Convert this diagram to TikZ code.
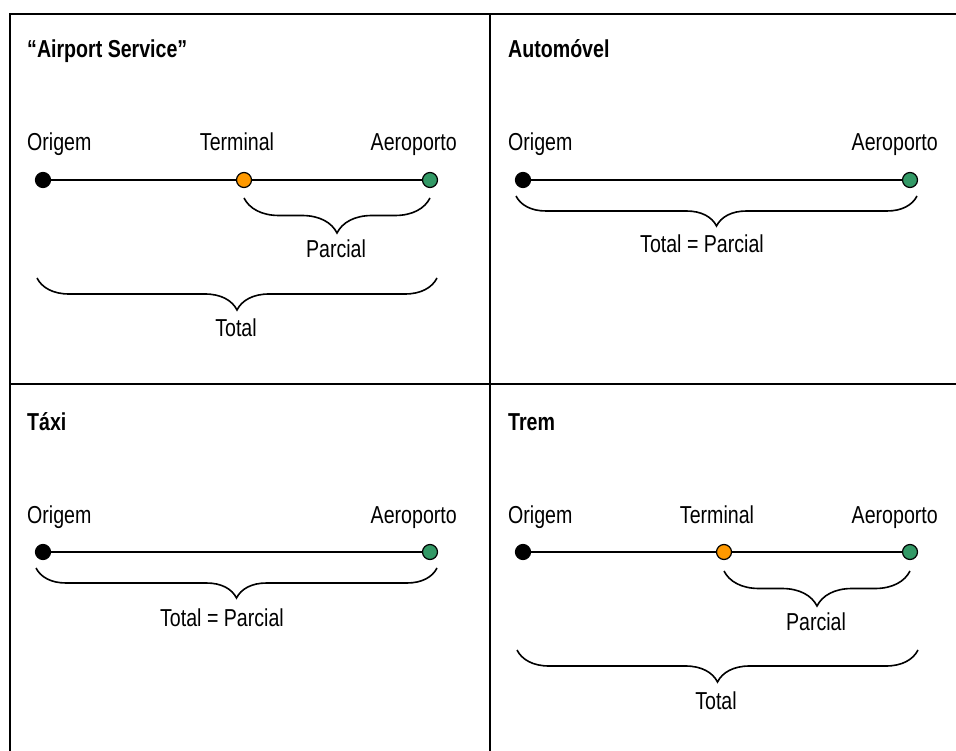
\documentclass[tikz,border=0pt]{standalone}
\usepackage{fontspec}
\setmainfont{Liberation Sans}[FakeStretch=0.8]
\usetikzlibrary{decorations.pathreplacing}
\definecolor{dotorange}{RGB}{255,153,0}
\definecolor{dotgreen}{RGB}{51,153,102}
\begin{document}
\begin{tikzpicture}[x=1pt,y=-1pt,
  frame/.style={line width=2pt, black},
  lbl/.style={font=\fontsize{24.5}{28}\selectfont, inner sep=0pt},
  ttl/.style={font=\fontsize{24.5}{28}\selectfont\bfseries, inner sep=0pt, anchor=base west},
  dotnode/.style={circle, draw=black, line width=1.2pt, minimum size=15pt, inner sep=0pt},
  route/.style={line width=1.7pt},
  bracel/.style={decorate, line width=1.6pt, decoration={brace, amplitude=#1}},
  bracel/.default=32
]
\useasboundingbox (0,0) rectangle (956,751);
% frame
\coordinate (tl) at (10,14);
\coordinate (tr) at (956,14);
\coordinate (bl) at (10,751);
\coordinate (vt) at (490,14);
\coordinate (vb) at (490,751);
\coordinate (hl) at (10,384);
\coordinate (hr) at (956,384);
\draw[frame] (bl) -- (tl) -- (tr);
\draw[frame] (vt) -- (vb);
\draw[frame, line width=1.7pt] (hl) -- (hr);

% ---------- Panel A: Airport Service ----------
\begin{scope}
\node[ttl] (Atitle) at (27,58) {“Airport Service”};
\node[lbl, anchor=base west] (AlO) at (27,151) {Origem};
\node[lbl, anchor=base] (AlT) at (237,151) {Terminal};
\node[lbl, anchor=base east] (AlA) at (457,151) {Aeroporto};
\coordinate (AO) at (43,180);
\coordinate (AT) at (244,180);
\coordinate (AA) at (430,180);
\draw[route] (AO) -- (AA);
\node[dotnode, fill=black] (AdO) at (AO) {};
\node[dotnode, fill=dotorange] (AdT) at (AT) {};
\node[dotnode, fill=dotgreen] (AdA) at (AA) {};
\coordinate (Ap1) at (430,198);
\coordinate (Ap2) at (244,198);
\draw[bracel=35] (Ap1) -- (Ap2);
\node[lbl, anchor=base] (Apar) at (336,258) {Parcial};
\coordinate (At1) at (437,278);
\coordinate (At2) at (37,278);
\draw[bracel=32] (At1) -- (At2);
\node[lbl, anchor=base] (Atot) at (236,337) {Total};
\end{scope}

% ---------- Panel B: Automovel ----------
\begin{scope}
\node[ttl] (Btitle) at (508,58) {Automóvel};
\node[lbl, anchor=base west] (BlO) at (508,151) {Origem};
\node[lbl, anchor=base east] (BlA) at (938,151) {Aeroporto};
\coordinate (BO) at (523,180);
\coordinate (BA) at (910,180);
\draw[route] (BO) -- (BA);
\node[dotnode, fill=black] (BdO) at (BO) {};
\node[dotnode, fill=dotgreen] (BdA) at (BA) {};
\coordinate (Bt1) at (917,196);
\coordinate (Bt2) at (516,196);
\draw[bracel=30] (Bt1) -- (Bt2);
\node[lbl, anchor=base] (Btot) at (702,253) {Total = Parcial};
\end{scope}

% ---------- Panel C: Taxi ----------
\begin{scope}
\node[ttl] (Ctitle) at (27,430) {Táxi};
\node[lbl, anchor=base west] (ClO) at (27,523) {Origem};
\node[lbl, anchor=base east] (ClA) at (457,523) {Aeroporto};
\coordinate (CO) at (43,552);
\coordinate (CA) at (430,552);
\draw[route] (CO) -- (CA);
\node[dotnode, fill=black] (CdO) at (CO) {};
\node[dotnode, fill=dotgreen] (CdA) at (CA) {};
\coordinate (Ct1) at (437,568);
\coordinate (Ct2) at (36,568);
\draw[bracel=30] (Ct1) -- (Ct2);
\node[lbl, anchor=base] (Ctot) at (222,626) {Total = Parcial};
\end{scope}

% ---------- Panel D: Trem ----------
\begin{scope}
\node[ttl] (Dtitle) at (508,430) {Trem};
\node[lbl, anchor=base west] (DlO) at (508,523) {Origem};
\node[lbl, anchor=base] (DlT) at (717,523) {Terminal};
\node[lbl, anchor=base east] (DlA) at (938,523) {Aeroporto};
\coordinate (DO) at (523,552);
\coordinate (DT) at (724,552);
\coordinate (DA) at (910,552);
\draw[route] (DO) -- (DA);
\node[dotnode, fill=black] (DdO) at (DO) {};
\node[dotnode, fill=dotorange] (DdT) at (DT) {};
\node[dotnode, fill=dotgreen] (DdA) at (DA) {};
\coordinate (Dp1) at (910,571);
\coordinate (Dp2) at (724,571);
\draw[bracel=35] (Dp1) -- (Dp2);
\node[lbl, anchor=base] (Dpar) at (816,630) {Parcial};
\coordinate (Dt1) at (918,650);
\coordinate (Dt2) at (517,650);
\draw[bracel=32] (Dt1) -- (Dt2);
\node[lbl, anchor=base] (Dtot) at (716,709) {Total};
\end{scope}
\end{tikzpicture}
\end{document}
